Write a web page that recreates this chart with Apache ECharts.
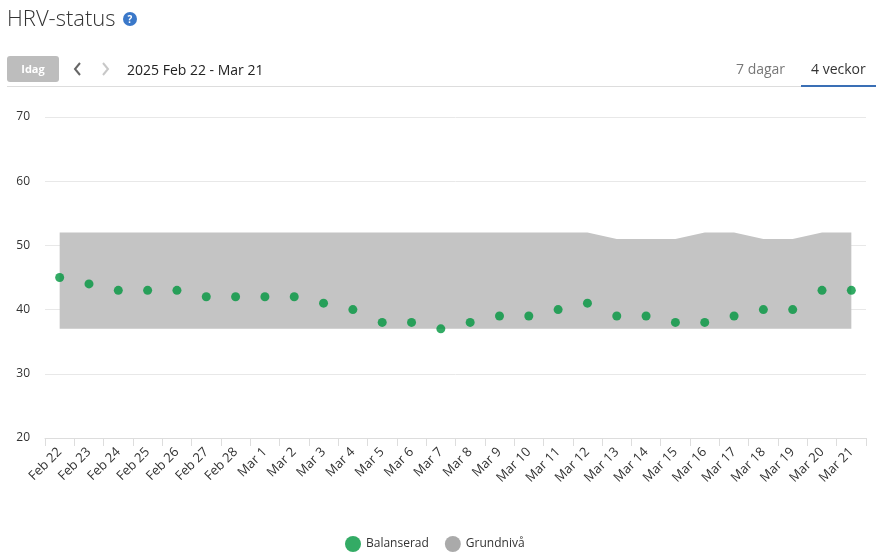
<!DOCTYPE html>
<html>
<head>
<meta charset="utf-8">
<script src="https://cdn.jsdelivr.net/npm/echarts@6/dist/echarts.min.js"></script>
<style>
  html, body { margin: 0; padding: 0; background: #fff; font-family: "Open Sans", sans-serif; }
  #wrap { position: relative; width: 880px; height: 560px; }
  #echart { position: absolute; left: 0; top: 0; width: 880px; height: 560px; }
  .abs { position: absolute; white-space: nowrap; }
  #title { left: 7px; top: 2px; font-size: 22px; font-weight: 300; color: #333; }
  #help { left: 123px; top: 12px; width: 14px; height: 14px; border-radius: 50%; background: #3a78c9; color: #fff;
          font-size: 10px; font-weight: bold; text-align: center; line-height: 14px; }
  #idag { left: 7px; top: 56px; width: 52px; height: 26px; border-radius: 3px; background: #bdbdbd; color: #fff;
          font-size: 11px; font-weight: bold; text-align: center; line-height: 26px; }
  #prev { left: 72px; top: 61px; }
  #next { left: 100px; top: 61px; }
  #range { left: 127px; top: 60px; font-size: 14px; color: #222; }
  #rule { left: 7px; top: 86px; width: 869px; height: 1px; background: #ddd; }
  #tab7 { left: 736px; top: 59px; font-size: 14px; color: #777; }
  #tab4 { left: 811px; top: 59px; font-size: 14px; color: #333; }
  #tabline { left: 801px; top: 85px; width: 75px; height: 2px; background: #3a6fb5; }
</style>
</head>
<body>
<div id="wrap">
  <div id="echart"></div>
  <div class="abs" id="title">HRV-status</div>
  <div class="abs" id="help">?</div>
  <div class="abs" id="idag">Idag</div>
  <svg class="abs" id="prev" width="12" height="16"><polyline points="8,2 3,8 8,14" fill="none" stroke="#666" stroke-width="2"/></svg>
  <svg class="abs" id="next" width="12" height="16"><polyline points="3,2 8,8 3,14" fill="none" stroke="#c8c8c8" stroke-width="2"/></svg>
  <div class="abs" id="range">2025 Feb 22 - Mar 21</div>
  <div class="abs" id="rule"></div>
  <div class="abs" id="tab7">7 dagar</div>
  <div class="abs" id="tab4">4 veckor</div>
  <div class="abs" id="tabline"></div>
</div>
<script>
var days = ['Feb 22','Feb 23','Feb 24','Feb 25','Feb 26','Feb 27','Feb 28','Mar 1','Mar 2','Mar 3',
            'Mar 4','Mar 5','Mar 6','Mar 7','Mar 8','Mar 9','Mar 10','Mar 11','Mar 12','Mar 13',
            'Mar 14','Mar 15','Mar 16','Mar 17','Mar 18','Mar 19','Mar 20','Mar 21'];
// HRV-värden (ms)
var hrv = [45,44,43,43,43,42,42,42,42,41,40,38,38,37,38,39,39,40,41,39,39,38,38,39,40,40,43,43];
// grundnivå, undre och övre gräns
var baseLow = [37,37,37,37,37,37,37,37,37,37,37,37,37,37,37,37,37,37,37,37,37,37,37,37,37,37,37,37];
var baseHigh = [52,52,52,52,52,52,52,52,52,52,52,52,52,52,52,52,52,52,52,51,51,51,52,52,51,51,52,52];

var bandWidth = baseHigh.map(function(v, i){ return v - baseLow[i]; });

var option = {
    animation: false,
    textStyle: { fontFamily: 'Open Sans' },
    grid: { left: 45, right: 14, top: 117, bottom: 122 },
    legend: {
        top: 531,
        left: 340,
        itemWidth: 16,
        itemHeight: 16,
        itemGap: 16,
        textStyle: { color: '#333', fontSize: 12 },
        data: [
            { name: 'Balanserad', icon: 'circle', itemStyle: { color: '#00963f' } },
            { name: 'Grundnivå', icon: 'circle', itemStyle: { color: '#aaaaaa' } }
        ]
    },
    xAxis: {
        type: 'category',
        data: days,
        boundaryGap: true,
        axisLine: { lineStyle: { color: '#ddd' } },
        axisTick: { show: true, length: 8, lineStyle: { color: '#ddd' } },
        axisLabel: { rotate: 45, color: '#333', fontSize: 13, interval: 0, margin: 12 }
    },
    yAxis: {
        type: 'value',
        min: 20,
        max: 70,
        interval: 10,
        axisLine: { show: false },
        axisTick: { show: false },
        axisLabel: { color: '#333', fontSize: 12, margin: 15 },
        splitLine: { lineStyle: { color: '#e8e8e8' } }
    },
    series: [
        {
            name: 'base',
            type: 'line',
            stack: 'band',
            data: baseLow,
            symbol: 'none',
            lineStyle: { opacity: 0 },
            silent: true,
            z: 1
        },
        {
            name: 'Grundnivå',
            type: 'line',
            stack: 'band',
            data: bandWidth,
            symbol: 'none',
            lineStyle: { opacity: 0 },
            areaStyle: { color: '#c4c4c4', opacity: 1 },
            itemStyle: { color: '#aaaaaa' },
            silent: true,
            z: 1
        },
        {
            name: 'Balanserad',
            type: 'scatter',
            data: hrv,
            symbol: 'circle',
            symbolSize: 9,
            itemStyle: { color: '#00963f' },
            z: 3
        }
    ]
};
echarts.init(document.getElementById('echart')).setOption(option);
</script>
</body>
</html>
